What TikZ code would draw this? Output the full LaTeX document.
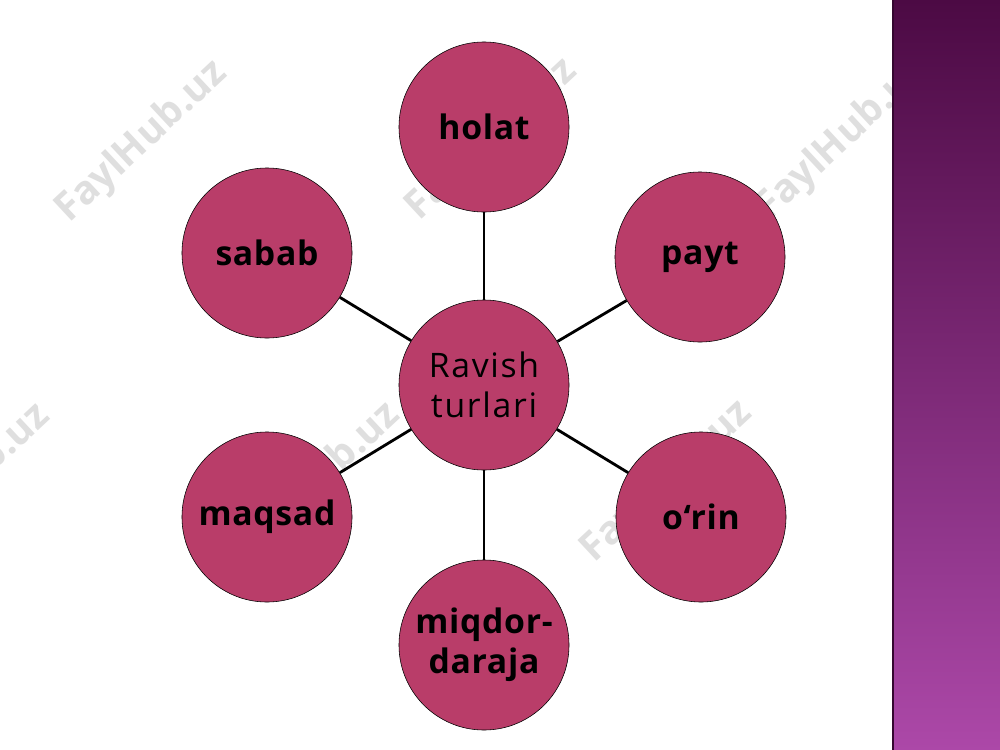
\documentclass[tikz,border=0pt]{standalone}
\usepackage{fontspec}
\setmainfont{Open Sans}
\usepackage{xcolor}
\usetikzlibrary{positioning}
\definecolor{petal}{RGB}{185,61,105}
\definecolor{stripTop}{RGB}{76,10,68}
\definecolor{stripBot}{RGB}{172,72,168}

\begin{document}
\begin{tikzpicture}[x=0.025cm,y=-0.025cm,semithick,inner sep=0pt,
    bubble/.style={circle,draw=black,thin,fill=petal,minimum size=4.25cm,align=center,
        font=\bfseries\fontsize{24}{28.5}\selectfont\addfontfeature{LetterSpace=2}},
    hub/.style={bubble,font=\fontsize{24}{28.5}\selectfont\addfontfeature{LetterSpace=5}},
    wmark/.style={rotate=43,text=gray!25,font=\bfseries\fontsize{28}{30}\selectfont}]
                \useasboundingbox (0,0) rectangle (1000,750);
                \fill[white] (0,0) rectangle (1000,750);
                % watermark
                \node[wmark] (w1) at (142,142) {FaylHub.uz};
                \node[wmark] (w2) at (492,140) {FaylHub.uz};
                \node[wmark] (w3) at (842,140) {FaylHub.uz};
                \node[wmark] (w4) at (-35,485) {FaylHub.uz};
                \node[wmark] (w5) at (315,484) {FaylHub.uz};
                \node[wmark] (w6) at (667,482) {FaylHub.uz};
                \node[hub] (turlari) at (484,385) {Ravish\\turlari};
                \node[bubble] (holat) at (484,127) {holat};
                \node[bubble] (sabab) at (267,253) {sabab};
                \node[bubble] (payt) at (700,257) {payt};
                \node[bubble] (maqsad) at (267,517) {maqsad};
                \node[bubble] (orin) at (701,517) {o‘rin};
                \node[bubble] (miqdor) at (484,645) {miqdor-\\daraja};
                \path[draw,line width=2pt]
                    (turlari) edge (holat)
                              edge (sabab)
                              edge (payt)
                              edge (maqsad)
                              edge (orin)
                              edge (miqdor);
                % side strip
                \shade[top color=stripTop,bottom color=stripBot] (892,0) rectangle (1000,750);
                \draw[stripTop!70!black,line width=2pt] (893,0) -- (893,750);
            \end{tikzpicture}
\end{document}
